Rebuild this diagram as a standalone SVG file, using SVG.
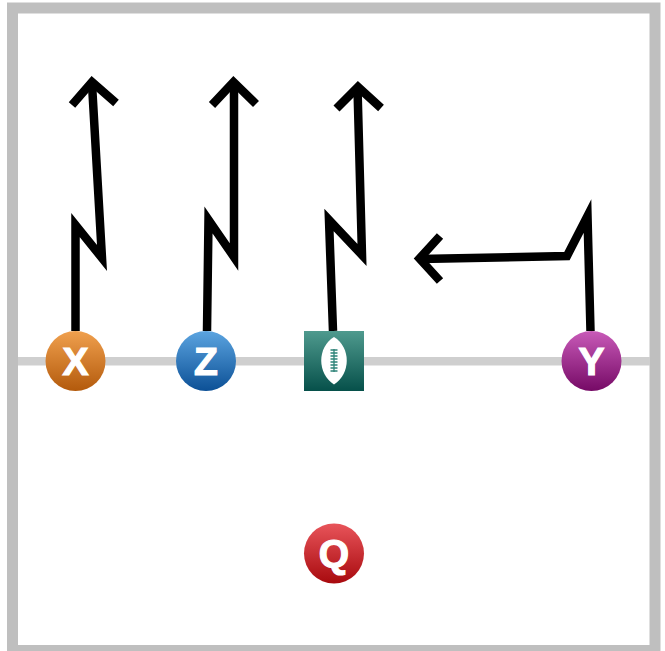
<svg xmlns="http://www.w3.org/2000/svg" width="665" height="651" viewBox="0 0 665 651">
<style>
.route{fill:none;stroke:#000;stroke-width:8.500;stroke-linejoin:miter;stroke-miterlimit:12}
.lab{font-family:"Liberation Sans",Arial,sans-serif;font-weight:700;font-size:39px;fill:#fff;stroke:#fff;stroke-width:1.200;text-anchor:middle}
</style>
<defs>
<linearGradient id="o" x1="0" y1="0" x2="0" y2="1"><stop offset="0" stop-color="#f0a04e"/><stop offset="1" stop-color="#b35a0c"/></linearGradient>
<linearGradient id="b" x1="0" y1="0" x2="0" y2="1"><stop offset="0" stop-color="#5ba4e0"/><stop offset="1" stop-color="#0c5096"/></linearGradient>
<linearGradient id="p" x1="0" y1="0" x2="0" y2="1"><stop offset="0" stop-color="#c85ab8"/><stop offset="1" stop-color="#760a66"/></linearGradient>
<linearGradient id="r" x1="0" y1="0" x2="0" y2="1"><stop offset="0" stop-color="#e8545a"/><stop offset="1" stop-color="#a80a0e"/></linearGradient>
<linearGradient id="g" x1="0" y1="0" x2="0" y2="1"><stop offset="0" stop-color="#4f9a8e"/><stop offset="1" stop-color="#06504a"/></linearGradient>
</defs>
<rect width="665" height="651" fill="#fff"/>
<g id="field">
<rect x="12.500" y="8" width="642.500" height="642.500" fill="#fff" stroke="#bfbfbf" stroke-width="11"/>
<rect x="18" y="357" width="632" height="8.500" fill="#cfcfcf"/>
</g>
<g id="connectors">
<path class="route" d="M75.500 331V225L102 258L92 84"/>
<path class="route" d="M72 105L92 82L116 103"/>
<path class="route" d="M207 331L208.500 220L234 257V84"/>
<path class="route" d="M212 105L233.500 82L256 104"/>
<path class="route" d="M333 331L329 220L362 255L357.500 88"/>
<path class="route" d="M336.500 108.500L358 87L381 108"/>
<path class="route" d="M590.500 331L587.500 216L567 256L420 259"/>
<path class="route" d="M440 236L419.500 258.500L440 281"/>
</g>
<g id="node-x"><circle cx="75.500" cy="361" r="30" fill="url(#o)"/><text class="lab" x="75.500" y="375">X</text></g>
<g id="node-z"><circle cx="206" cy="361" r="30" fill="url(#b)"/><text class="lab" x="206" y="375">Z</text></g>
<g id="node-center">
<rect x="304" y="331" width="60" height="60" fill="url(#g)"/>
<path d="M334 337C351 347 351 374 334 384.500C317 374 317 347 334 337Z" fill="#fff"/>
<path d="M334 349V372M330.500 350H337.500M330.500 353H337.500M330.500 356H337.500M330.500 359H337.500M330.500 362H337.500M330.500 365H337.500M330.500 368H337.500M330.500 371H337.500" stroke="#2d8378" stroke-width="1.300" fill="none"/>
</g>
<g id="node-y"><circle cx="591.500" cy="361" r="30" fill="url(#p)"/><text class="lab" x="591.500" y="375">Y</text></g>
<g id="node-q"><circle cx="334" cy="553.500" r="30" fill="url(#r)"/><text class="lab" x="334" y="567">Q</text></g>
</svg>
